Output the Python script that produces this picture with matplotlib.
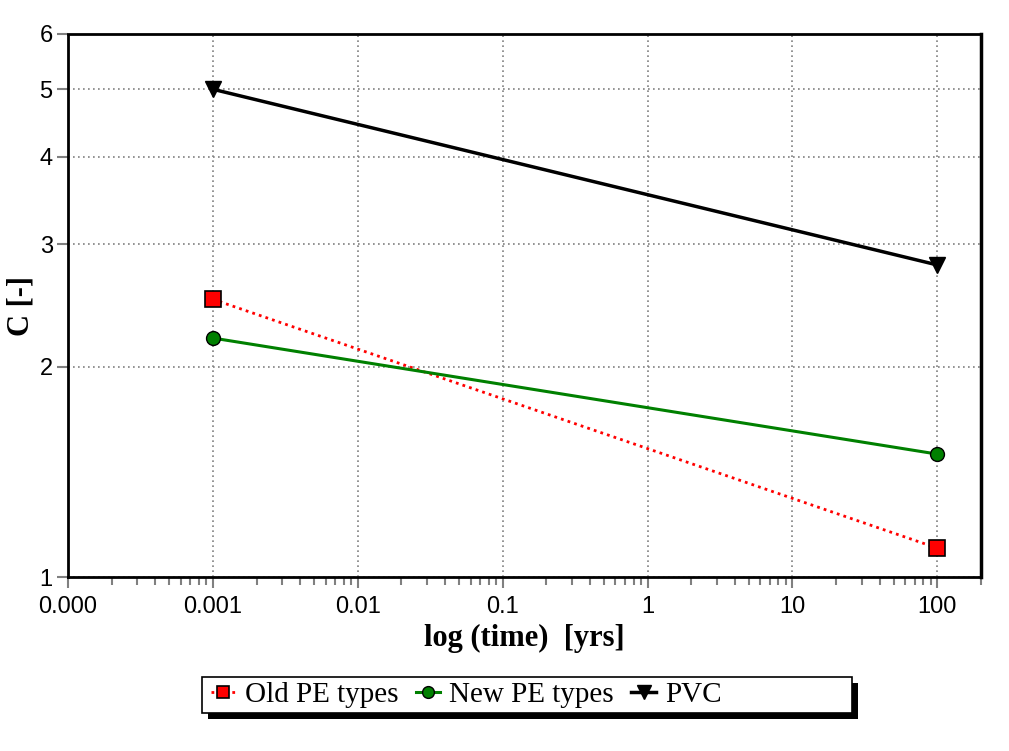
import matplotlib
matplotlib.use('Agg')
import matplotlib.pyplot as plt
from matplotlib.patches import Rectangle
from matplotlib.ticker import FixedLocator, FixedFormatter, LogLocator, NullLocator

# data
time_yrs = [0.001, 100]
old_pe = [2.5, 1.1]
new_pe = [2.2, 1.5]
pvc = [5.0, 2.8]

xticks = [0.0001, 0.001, 0.01, 0.1, 1, 10, 100]
xticklabels = ['0.000', '0.001', '0.01', '0.1', '1', '10', '100']
yticks = [1, 2, 3, 4, 5, 6]

W, H = 1009, 751
fig = plt.figure(figsize=(W / 100, H / 100), dpi=100)
ax = fig.add_axes([68 / W, 1 - 577 / H, (981 - 68) / W, (577 - 34) / H])

ax.set_xscale('log')
ax.set_yscale('log')
ax.set_xlim(1e-4, 200)
ax.set_ylim(1, 6)

#------------------------------
# series
#------------------------------
ax.plot(time_yrs, old_pe, color='red', ls=(0, (1, 1.5)), lw=2, marker='s', ms=11,
        mfc='red', mec='black', mew=1.2, label='Old PE types', zorder=4)
ax.plot(time_yrs, new_pe, color='green', ls='-', lw=2.2, marker='o', ms=10,
        mfc='green', mec='black', mew=1.0, label='New PE types', zorder=4)
ax.plot(time_yrs, pvc, color='black', ls='-', lw=2.5, marker='v', ms=12,
        mfc='black', mec='black', label='PVC', zorder=4)

#------------------------------
# axes, ticks, grid
#------------------------------
ax.xaxis.set_major_locator(FixedLocator(xticks))
ax.xaxis.set_major_formatter(FixedFormatter(xticklabels))
ax.xaxis.set_minor_locator(LogLocator(base=10, subs=range(2, 10), numticks=20))
ax.yaxis.set_major_locator(FixedLocator(yticks))
ax.yaxis.set_major_formatter(FixedFormatter([str(v) for v in yticks]))
ax.yaxis.set_minor_locator(NullLocator())

ax.tick_params(axis='both', which='major', direction='out', length=8, width=1.5,
               color='gray', labelsize=17, pad=3)
ax.tick_params(axis='x', which='major', pad=6)
ax.tick_params(axis='x', which='minor', direction='out', length=6, width=1.5, color='gray')
for lab in ax.get_xticklabels() + ax.get_yticklabels():
    lab.set_family('Liberation Sans')

ax.grid(True, which='major', color='gray', ls=(0, (1, 2)), lw=1.2)

for s in ['top', 'left', 'bottom']:
    ax.spines[s].set_linestyle((0, (1, 1)))
    ax.spines[s].set_linewidth(2)
    ax.spines[s].set_color('black')
ax.spines['right'].set_linewidth(2.5)

ax.set_xlabel('log (time)  [yrs]', family='Liberation Serif', fontweight='bold', fontsize=22, labelpad=4)
ax.set_ylabel('C [-]', family='Liberation Serif', fontweight='bold', fontsize=22, labelpad=3)

#------------------------------
# legend below the plot, in a fixed box with a black drop shadow
#------------------------------
bx0, bx1, by0, by1 = 202, 852, 677, 713
fig.patches.append(Rectangle(((bx0 + 6) / W, 1 - (by1 + 6) / H), (bx1 - bx0) / W, (by1 - by0) / H,
                             transform=fig.transFigure, facecolor='black', edgecolor='none', zorder=1))
fig.patches.append(Rectangle((bx0 / W, 1 - by1 / H), (bx1 - bx0) / W, (by1 - by0) / H,
                             transform=fig.transFigure, facecolor='white', edgecolor='black',
                             lw=1.2, zorder=2))

leg = fig.legend(loc='center left', bbox_to_anchor=(211 / W, 1 - 695 / H), ncol=3, frameon=False,
                 prop={'family': 'Liberation Serif', 'size': 21}, handlelength=0.85,
                 handletextpad=0.3, columnspacing=0.6, borderpad=0, borderaxespad=0,
                 markerscale=0.85)
leg.set_zorder(5)

fig.savefig('out.png', dpi=100)
